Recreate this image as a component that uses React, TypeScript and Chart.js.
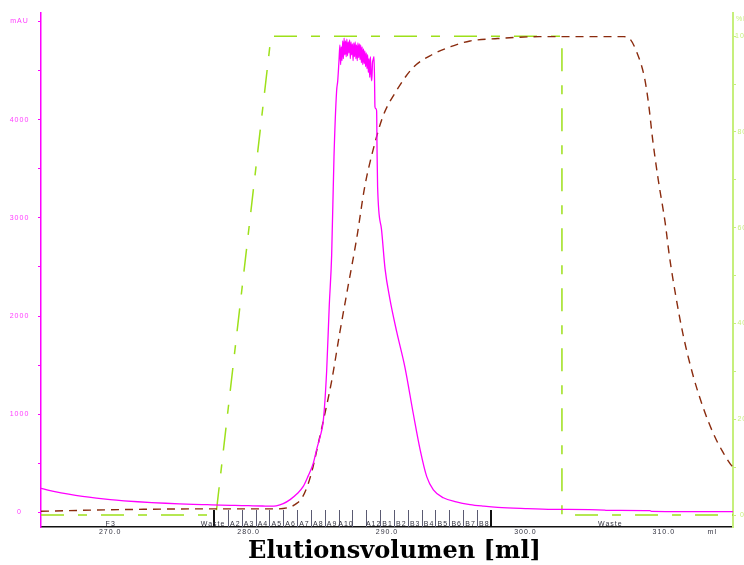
import React, { useEffect, useRef } from 'react';
import { Chart, registerables } from 'chart.js';

Chart.register(...registerables);

// ---- UV absorbance (mAU) ----
const uvVolume = [
  265.0, 265.5, 266.0, 267.0, 268.0, 269.0, 270.0, 271.0, 272.0, 273.0, 274.0, 275.0,
  276.0, 277.0, 278.0, 279.0, 280.0, 281.0, 281.6, 282.0, 282.5, 283.0, 283.5, 283.95,
  284.3, 284.67, 284.95, 285.16, 285.4, 285.64, 285.83, 286.0, 286.17, 286.36, 286.44, 286.53,
  286.6, 286.65, 286.7, 286.75, 286.8, 286.85, 286.9, 286.95, 287.0, 287.05, 287.1, 287.15,
  287.2, 287.25, 287.3, 287.35, 287.4, 287.45, 287.5, 287.55, 287.6, 287.65, 287.7, 287.75,
  287.8, 287.85, 287.9, 287.95, 288.0, 288.05, 288.1, 288.15, 288.2, 288.25, 288.3, 288.35,
  288.4, 288.45, 288.5, 288.55, 288.6, 288.65, 288.7, 288.75, 288.8, 288.85, 288.9, 288.95,
  289.0, 289.06, 289.1, 289.13, 289.2, 289.25, 289.28, 289.32, 289.6, 289.86, 290.2, 290.7,
  291.3, 291.9, 292.4, 292.87, 293.35, 294.07, 295.0, 296.0, 297.0, 298.0, 300.0, 302.0,
  305.7, 305.8, 309.0, 309.1, 315.0,
];
const uvAbsorbance = [
  245, 228, 212, 186, 164, 146, 131, 119, 109, 101, 94, 88,
  83, 79, 75, 72, 69, 66, 64, 68, 90, 131, 190, 265,
  370, 500, 660, 768, 937, 1440, 2112, 2615, 3622, 4293, 4394, 4595,
  4760, 4560, 4740, 4600, 4800, 4620, 4830, 4660, 4800, 4640, 4820, 4650,
  4790, 4680, 4810, 4620, 4790, 4660, 4770, 4600, 4780, 4640, 4790, 4620,
  4760, 4600, 4780, 4630, 4770, 4610, 4760, 4580, 4740, 4560, 4720, 4570,
  4700, 4540, 4680, 4520, 4660, 4480, 4620, 4430, 4640, 4460, 4395, 4570,
  4610, 4640, 4400, 4130, 4110, 4090, 3700, 3320, 2885, 2480, 2180, 1840,
  1475, 1005, 635, 365, 230, 150, 108, 80, 64, 52, 40, 32,
  24, 22, 18, 12, 8,
];

// ---- Conductivity (% of max, dashed brown) ----
const condVolume = [
  265.0, 268.0, 272.0, 276.0, 280.0, 282.0, 283.0, 283.5, 283.9, 284.3, 284.65, 285.0,
  285.4, 286.0, 286.6, 287.2, 287.8, 288.4, 289.0, 289.7, 290.7, 291.9, 293.1, 294.6,
  296.0, 298.0, 301.0, 307.1, 307.56, 308.0, 308.6, 308.9, 309.2, 309.6, 310.1, 310.4,
  310.9, 311.4, 312.1, 312.85, 313.6, 314.2, 314.8, 315.0,
];
const condPercent = [
  0.8, 1.0, 1.2, 1.3, 1.3, 1.3, 1.7, 2.5, 3.8, 6.5, 10, 14.5,
  19.7, 28, 38.3, 48, 57.6, 68.7, 76.3, 83.2, 88.7, 93.5, 95.9, 97.8,
  99.0, 99.5, 99.9, 99.9, 99.4, 97, 91.4, 85.9, 78.3, 70, 61, 54.2,
  45.2, 37.6, 29.3, 22.4, 16.9, 13.5, 10.7, 10.0,
];

// ---- Gradient %B (dash-dot green) ----
const gradientVolume = [265.0, 277.64, 281.62, 302.64, 302.64, 315.0];
const gradientPercentB = [0, 0, 100, 100, 0, 0];

// ---- Fractions ----
const fractionBounds = [
  277.5, 278.5, 279.5, 280.5, 281.5, 282.5, 283.5, 284.5, 285.5, 286.5, 287.5,
  288.5, 289.5, 290.5, 291.5, 292.5, 293.5, 294.5, 295.5, 296.5, 297.5,
];
const fractionLabels = [
  'Waste', 'A2', 'A3', 'A4', 'A5', 'A6', 'A7', 'A8', 'A9', 'A10', '',
  'A12', 'B1', 'B2', 'B3', 'B4', 'B5', 'B6', 'B7', 'B8',
];
const fractionLabelVolume = [
  277.4, 279, 280, 281, 282, 283, 284, 285, 286, 287, 288,
  289, 290, 291, 292, 293, 294, 295, 296, 297,
];
const otherFractionLabels = ['F3', 'Waste'];
const otherFractionVolume = [270.0, 306.1];

// ---- Axes ----
const xTickValues = [270, 280, 290, 300, 310];
const xUnitLabel = 'ml';
const xUnitVolume = 313.5;
const uvTickValues = [0, 500, 1000, 1500, 2000, 2500, 3000, 3500, 4000, 4500, 5000];
const uvLabelValues = [0, 1000, 2000, 3000, 4000];
const uvUnitLabel = 'mAU';
const uvUnitValue = 5000;
const pctTickValues = [0, 10, 20, 30, 40, 50, 60, 70, 80, 90, 100];
const pctLabelValues = [0, 20, 40, 60, 80, 100];
const pctUnitLabel = '%B';
const pctUnitValue = 103.6;
const xTitle = 'Elutionsvolumen [ml]';

const MAGENTA = '#ff00ff';
const UV_LABEL = '#ff3cff';
const GREEN = '#9de01a';
const GREEN_AXIS = '#c6ef7c';
const BROWN = '#8a2b0e';
const TICK_FONT = { family: '"Liberation Sans", Arial, sans-serif', size: 7 };

const fractionPlugin = {
  id: 'fractionsAndTitle',
  beforeUpdate(chart: any) {
    chart.ctx.letterSpacing = '1px';
  },
  beforeDraw(chart: any) {
    chart.ctx.letterSpacing = '1px';
  },
  afterDatasetsDraw(chart: any) {
    const { ctx, chartArea, scales } = chart;
    const x = scales.x;
    ctx.save();
    ctx.letterSpacing = '1px';
    fractionBounds.forEach((v, i) => {
      const thick = i === 0 || i === fractionBounds.length - 1;
      const px = Math.round(x.getPixelForValue(v)) + (thick ? 0 : 0.5);
      ctx.strokeStyle = thick ? '#111111' : '#5a5a72';
      ctx.lineWidth = thick ? 2 : 1;
      ctx.beginPath();
      ctx.moveTo(px, chartArea.bottom - 17);
      ctx.lineTo(px, chartArea.bottom);
      ctx.stroke();
    });
    ctx.font = '7px "Liberation Sans", Arial, sans-serif';
    ctx.fillStyle = '#333340';
    ctx.textAlign = 'center';
    ctx.textBaseline = 'alphabetic';
    fractionLabels.forEach((t, i) => {
      if (t) ctx.fillText(t, x.getPixelForValue(fractionLabelVolume[i]) + 0.5, chartArea.bottom - 1.5);
    });
    otherFractionLabels.forEach((t, i) => {
      ctx.fillText(t, x.getPixelForValue(otherFractionVolume[i]) + 0.5, chartArea.bottom - 1.5);
    });
    ctx.restore();
  },
  afterDraw(chart: any) {
    const { ctx } = chart;
    ctx.save();
    ctx.letterSpacing = '0px';
    const fam = '"DejaVu Serif", "Liberation Serif", serif';
    ctx.font = `bold 26px ${fam}`;
    const w = ctx.measureText(xTitle).width;
    const size = (26 * 293) / w;
    ctx.font = `bold ${size.toFixed(2)}px ${fam}`;
    ctx.fillStyle = '#000';
    ctx.textAlign = 'center';
    ctx.textBaseline = 'alphabetic';
    ctx.fillText(xTitle, 394.5, 558);
    ctx.restore();
  },
};

export default function App() {
  const ref = useRef<HTMLCanvasElement | null>(null);
  useEffect(() => {
    if (!ref.current) return;
    const chart = new Chart(ref.current, {
      type: 'line',
      data: {
        datasets: [
          {
            label: 'UV',
            data: uvVolume.map((v, i) => ({ x: v, y: uvAbsorbance[i] })),
            borderColor: MAGENTA,
            borderWidth: 1.3,
            pointRadius: 0,
            cubicInterpolationMode: 'monotone',
            yAxisID: 'y',
          },
          {
            label: 'Cond',
            data: condVolume.map((v, i) => ({ x: v, y: condPercent[i] })),
            borderColor: BROWN,
            borderWidth: 1.4,
            borderDash: [8, 6],
            pointRadius: 0,
            cubicInterpolationMode: 'monotone',
            yAxisID: 'y2',
          },
          {
            label: '%B',
            data: gradientVolume.map((v, i) => ({ x: v, y: gradientPercentB[i] })),
            borderColor: GREEN,
            borderWidth: 1.5,
            borderDash: [23, 14, 9, 14],
            pointRadius: 0,
            tension: 0,
            yAxisID: 'y2',
          },
        ],
      },
      options: {
        animation: false,
        responsive: false,
        devicePixelRatio: 1,
        layout: { padding: { top: 8, left: 0, right: 0, bottom: 0 } },
        plugins: { legend: { display: false }, tooltip: { enabled: false }, title: { display: false } },
        scales: {
          x: {
            type: 'linear',
            min: 265,
            max: 315,
            afterBuildTicks: (s: any) => {
              s.ticks = [...xTickValues, xUnitVolume].map((v) => ({ value: v }));
            },
            afterFit: (s: any) => {
              s.height = 38;
            },
            ticks: {
              autoSkip: false,
              maxRotation: 0,
              padding: 1.3,
              color: '#333340',
              font: TICK_FONT,
              callback: (v: any) => (v === xUnitVolume ? xUnitLabel : Number(v).toFixed(1)),
            },
            grid: { drawOnChartArea: false, drawTicks: false },
            border: { display: true, color: '#111111', width: 1.5 },
          },
          y: {
            type: 'linear',
            position: 'left',
            min: -148,
            max: 5086,
            afterBuildTicks: (s: any) => {
              s.ticks = uvTickValues.map((v) => ({ value: v }));
            },
            afterFit: (s: any) => {
              s.width = 41;
            },
            ticks: {
              autoSkip: false,
              crossAlign: 'center',
              padding: 8.7,
              color: UV_LABEL,
              font: TICK_FONT,
              callback: (v: any) =>
                v === uvUnitValue ? uvUnitLabel : uvLabelValues.includes(v) ? String(v) : '',
            },
            grid: { drawOnChartArea: false, drawTicks: true, tickLength: 3, color: MAGENTA },
            border: { display: true, color: MAGENTA, width: 1.5 },
          },
          y2: {
            type: 'linear',
            position: 'right',
            min: -2.48,
            max: 104.86,
            afterBuildTicks: (s: any) => {
              s.ticks = [...pctTickValues, pctUnitValue].map((v) => ({ value: v }));
            },
            afterFit: (s: any) => {
              s.width = 11;
            },
            ticks: {
              autoSkip: false,
              crossAlign: 'center',
              padding: -1,
              color: GREEN_AXIS,
              font: TICK_FONT,
              callback: (v: any) =>
                v === pctUnitValue ? pctUnitLabel : pctLabelValues.includes(v) ? String(v) : '',
            },
            grid: {
              drawOnChartArea: false,
              drawTicks: true,
              tickLength: 3,
              color: (c: any) => (c.tick && c.tick.value === pctUnitValue ? 'rgba(0,0,0,0)' : GREEN_AXIS),
            },
            border: { display: true, color: GREEN_AXIS, width: 2 },
          },
        },
      } as any,
      plugins: [fractionPlugin as any],
    });
    return () => chart.destroy();
  }, []);

  return (
    <div style={{ position: 'absolute', left: 0, top: 0, width: 744, height: 565 }}>
      <canvas ref={ref} width={744} height={565} style={{ display: 'block' }} />
    </div>
  );
}
